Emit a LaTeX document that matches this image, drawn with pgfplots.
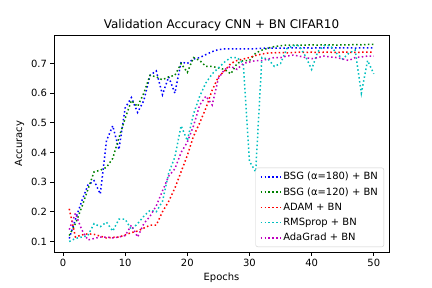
\documentclass[border=0pt]{standalone}
\usepackage{fontspec}
\setmainfont{DejaVu Sans}
\usepackage{pgfplots}
\pgfplotsset{compat=1.18}
\definecolor{mplb}{rgb}{0,0,1}
\definecolor{mplg}{rgb}{0,0.5,0}
\definecolor{mplr}{rgb}{1,0,0}
\definecolor{mplc}{rgb}{0,0.75,0.75}
\definecolor{mplm}{rgb}{0.75,0,0.75}
\definecolor{legedge}{rgb}{0.8,0.8,0.8}
\begin{document}
\begin{tikzpicture}
\path[use as bounding box] (-54bp,-36bp) rectangle (378bp,252bp);
\begin{axis}[
  at={(0,0)}, anchor=south west,
  scale only axis, width=335bp, height=217bp,
  xmin=-1.45, xmax=52.45, ymin=0.0645, ymax=0.796,
  xtick={0,10,20,30,40,50},
  ytick={0.1,0.2,0.3,0.4,0.5,0.6,0.7},
  yticklabel style={/pgf/number format/.cd,fixed,fixed zerofill,precision=1},
  /pgf/number format/assume math mode=true,
  tick align=outside, tick pos=left,
  major tick length=3.5bp,
  every tick/.style={black, line width=0.8bp},
  axis line style={line width=0.8bp},
  ticklabel style={font=\fontsize{10}{12}\selectfont},
  title={Validation Accuracy CNN + BN CIFAR10},
  title style={font=\fontsize{12}{14}\selectfont, at={(0.5,1)}, anchor=base, yshift=1bp, inner sep=0pt},
  xlabel={Epochs}, ylabel={Accuracy},
  label style={font=\fontsize{10}{12}\selectfont},
  every axis plot/.append style={line width=1.5bp, dash pattern=on 1.5bp off 2.475bp, line cap=butt},
  legend image code/.code={\draw[#1] (0bp,0bp) -- (20bp,0bp);},
  legend cell align=left,
  legend style={at={(1,0)}, anchor=south east, xshift=-5bp, yshift=5bp,
    draw=legedge, fill=white, fill opacity=0.8, text opacity=1, rounded corners=2bp,
    font=\fontsize{10}{12}\selectfont, inner xsep=4bp, inner ysep=2.5bp,
    row sep=2.3bp},
]
\addplot[mplb] table {
1 0.11
2 0.175
3 0.235
4 0.29
5 0.305
6 0.26
7 0.44
8 0.49
9 0.41
10 0.55
11 0.585
12 0.535
13 0.575
14 0.66
15 0.675
16 0.595
17 0.655
18 0.60
19 0.705
20 0.70
21 0.715
22 0.72
23 0.73
24 0.74
25 0.747
26 0.749
27 0.749
28 0.749
29 0.749
30 0.749
31 0.75
32 0.751
33 0.752
34 0.752
35 0.752
36 0.752
37 0.753
38 0.752
39 0.753
40 0.752
41 0.753
42 0.753
43 0.752
44 0.753
45 0.753
46 0.753
47 0.752
48 0.753
49 0.753
50 0.753
};
\addlegendentry{BSG (α=180) + BN}
\addplot[mplg] table {
1 0.12
2 0.16
3 0.215
4 0.275
5 0.335
6 0.34
7 0.35
8 0.38
9 0.45
10 0.515
11 0.575
12 0.555
13 0.60
14 0.66
15 0.655
16 0.645
17 0.655
18 0.66
19 0.70
20 0.67
21 0.72
22 0.71
23 0.69
24 0.69
25 0.685
26 0.68
27 0.665
28 0.70
29 0.71
30 0.71
31 0.735
32 0.745
33 0.752
34 0.757
35 0.76
36 0.762
37 0.762
38 0.762
39 0.762
40 0.763
41 0.762
42 0.763
43 0.763
44 0.762
45 0.763
46 0.763
47 0.764
48 0.763
49 0.764
50 0.764
};
\addlegendentry{BSG (α=120) + BN}
\addplot[mplr] table {
1 0.21
2 0.115
3 0.122
4 0.126
5 0.124
6 0.118
7 0.112
8 0.114
9 0.115
10 0.122
11 0.13
12 0.135
13 0.145
14 0.155
15 0.155
16 0.20
17 0.235
18 0.28
19 0.335
20 0.39
21 0.455
22 0.50
23 0.55
24 0.61
25 0.655
26 0.675
27 0.70
28 0.71
29 0.715
30 0.72
31 0.727
32 0.732
33 0.735
34 0.736
35 0.737
36 0.736
37 0.737
38 0.738
39 0.737
40 0.738
41 0.737
42 0.738
43 0.738
44 0.737
45 0.738
46 0.738
47 0.737
48 0.738
49 0.738
50 0.738
};
\addlegendentry{ADAM + BN}
\addplot[mplc] table {
1 0.10
2 0.11
3 0.115
4 0.12
5 0.16
6 0.15
7 0.165
8 0.135
9 0.175
10 0.175
11 0.14
12 0.16
13 0.185
14 0.205
15 0.20
16 0.235
17 0.33
18 0.385
19 0.49
20 0.44
21 0.53
22 0.59
23 0.635
24 0.665
25 0.685
26 0.705
27 0.72
28 0.72
29 0.70
30 0.37
31 0.335
32 0.72
33 0.715
34 0.69
35 0.70
36 0.75
37 0.76
38 0.76
39 0.725
40 0.68
41 0.74
42 0.76
43 0.76
44 0.735
45 0.715
46 0.735
47 0.745
48 0.60
49 0.71
50 0.665
};
\addlegendentry{RMSprop + BN}
\addplot[mplm] table {
1 0.14
2 0.195
3 0.14
4 0.105
5 0.11
6 0.115
7 0.115
8 0.112
9 0.115
10 0.12
11 0.155
12 0.115
13 0.16
14 0.185
15 0.22
16 0.27
17 0.32
18 0.345
19 0.40
20 0.435
21 0.49
22 0.56
23 0.59
24 0.56
25 0.65
26 0.68
27 0.69
28 0.68
29 0.70
30 0.705
31 0.71
32 0.71
33 0.715
34 0.72
35 0.72
36 0.725
37 0.728
38 0.725
39 0.72
40 0.716
41 0.72
42 0.725
43 0.722
44 0.72
45 0.715
46 0.71
47 0.72
48 0.722
49 0.725
50 0.725
};
\addlegendentry{AdaGrad + BN}
\end{axis}
\end{tikzpicture}
\end{document}
